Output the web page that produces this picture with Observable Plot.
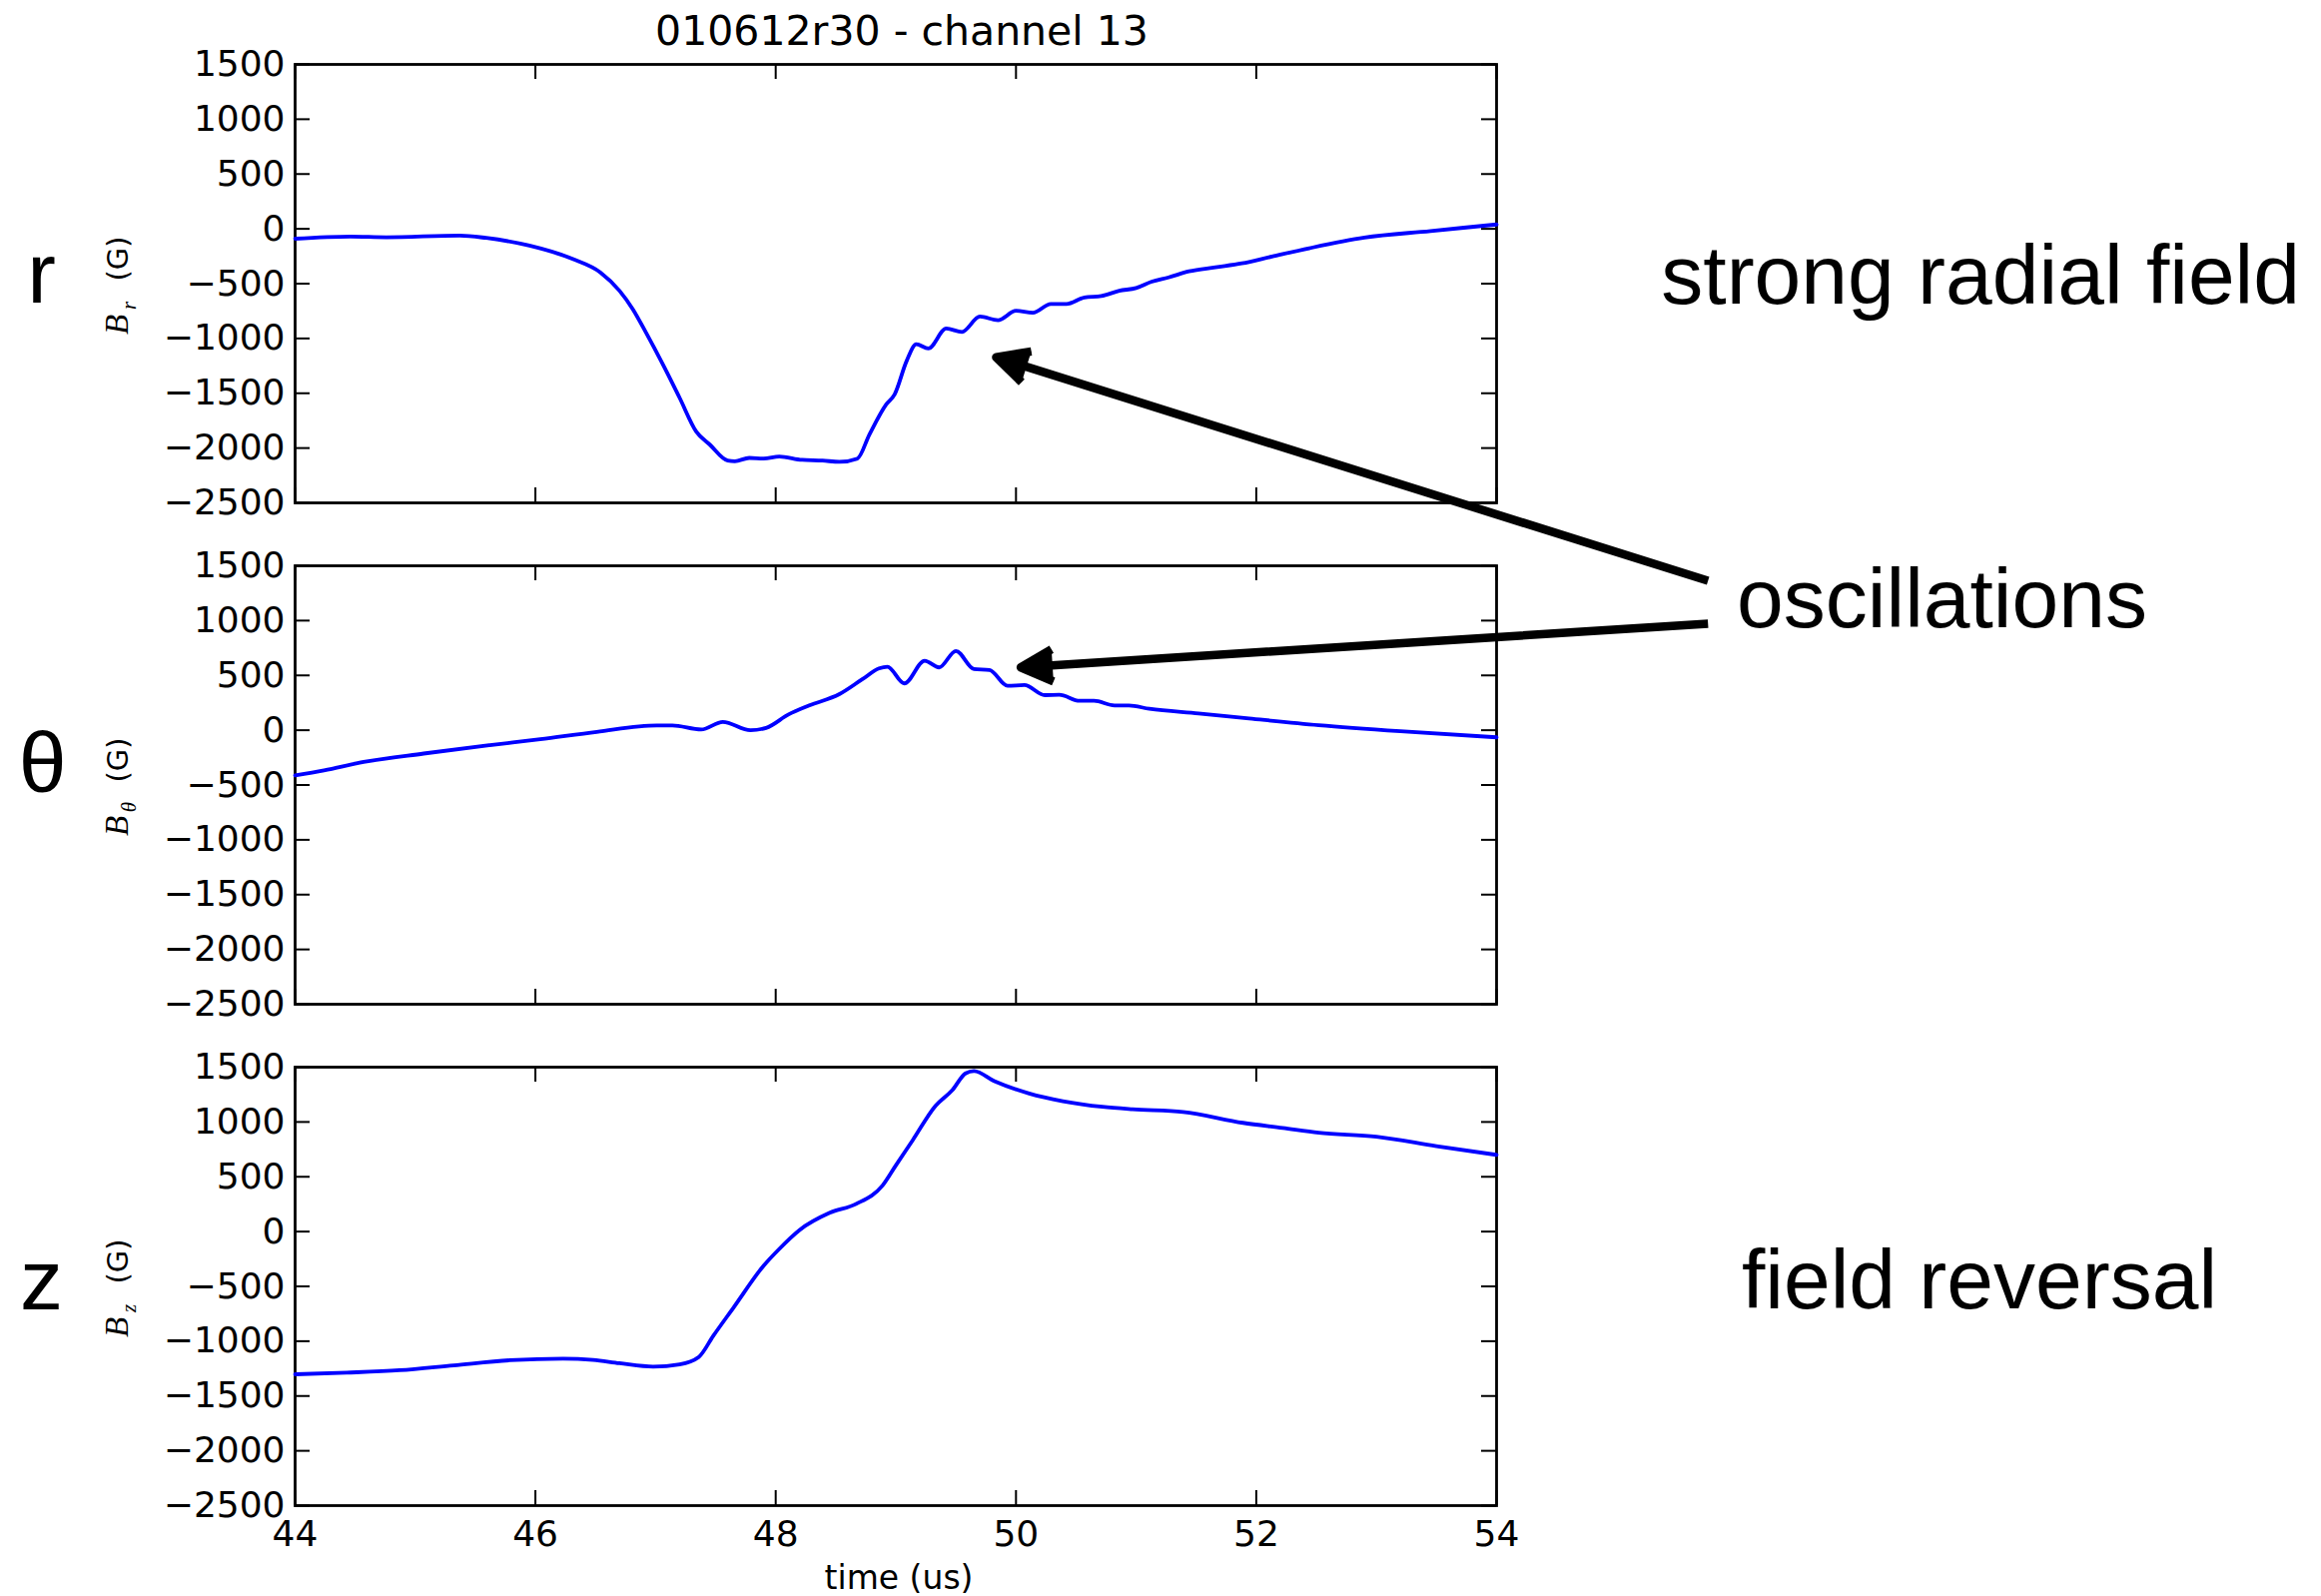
<!DOCTYPE html>
<html>
<head>
<meta charset="utf-8">
<script src="https://cdn.jsdelivr.net/npm/d3@7"></script>
<script src="https://cdn.jsdelivr.net/npm/@observablehq/plot@0.6"></script>
<style>
  html, body { margin: 0; padding: 0; background: white; }
  #chart svg { display: block; max-width: none; }
</style>
</head>
<body>
<div id="chart"></div>
<script>
// ---- data ----
const channels = ["r", "θ", "z"];
const xTicks = [44, 46, 48, 50, 52, 54];
const yTicks = [-2500, -2000, -1500, -1000, -500, 0, 500, 1000, 1500];
const title = "010612r30 - channel 13";
const xLabel = "time (us)";

const t_r = [44.0, 44.46, 44.76, 45.37, 45.59, 45.95, 46.31, 46.54, 46.70, 46.81, 46.92, 47.06, 47.20, 47.34, 47.45, 47.60, 47.66, 47.78, 47.90, 48.03, 48.22, 48.39, 48.53, 48.68, 48.78, 48.92, 48.99, 49.09, 49.17, 49.27, 49.42, 49.55, 49.70, 49.85, 50.00, 50.14, 50.29, 50.42, 50.57, 50.71, 50.86, 51.00, 51.13, 51.27, 51.44, 51.66, 51.88, 52.13, 52.44, 52.90, 53.45, 54.00];
const b_r = [-90, -70, -77, -61, -83, -153, -275, -397, -565, -732, -946, -1235, -1541, -1852, -1967, -2114, -2120, -2090, -2096, -2077, -2108, -2114, -2126, -2096, -1876, -1601, -1510, -1205, -1052, -1092, -909, -940, -800, -833, -748, -766, -686, -686, -626, -613, -565, -540, -482, -443, -388, -351, -315, -253, -177, -80, -20, 40];

const t_theta = [44.00, 44.24, 44.57, 45.07, 45.62, 46.04, 46.51, 47.01, 47.14, 47.38, 47.56, 47.79, 47.92, 48.11, 48.28, 48.53, 48.72, 48.86, 48.93, 49.07, 49.24, 49.36, 49.50, 49.65, 49.78, 49.93, 50.07, 50.24, 50.36, 50.53, 50.65, 50.82, 50.94, 51.11, 51.52, 51.94, 52.52, 53.20, 54.00];
const b_theta = [-412, -366, -290, -213, -137, -82, -15, 43, 43, 6, 76, 0, 21, 146, 226, 329, 464, 564, 579, 427, 634, 573, 723, 558, 549, 405, 412, 320, 323, 268, 268, 226, 226, 195, 153, 107, 46, -10, -65];

const t_z = [44.00, 44.43, 44.87, 45.32, 45.79, 46.23, 46.48, 46.70, 46.98, 47.20, 47.36, 47.48, 47.65, 47.90, 48.03, 48.20, 48.45, 48.67, 48.89, 49.00, 49.14, 49.33, 49.47, 49.58, 49.65, 49.82, 50.11, 50.39, 50.72, 50.97, 51.39, 51.89, 52.22, 52.52, 53.00, 53.50, 54.00];
const b_z = [-1302, -1287, -1265, -1220, -1174, -1159, -1171, -1201, -1232, -1211, -1144, -952, -692, -311, -158, 15, 171, 253, 421, 604, 833, 1147, 1290, 1443, 1464, 1372, 1260, 1190, 1138, 1116, 1092, 992, 946, 903, 865, 780, 700];

// annotations (in data coordinates of the panel they sit in)
const noteText = ["strong radial field", "oscillations", "field reversal"];
const noteCh = ["r", "θ", "z"];
const noteX = [55.37, 56.00, 56.04];
const noteY = [-678, 944, -705];

const arrowCh = ["r", "θ"];
const arrowX1 = [55.76, 55.76];
const arrowY1 = [-3211, 972];
const arrowX2 = [49.835, 50.04];
const arrowY2 = [-1172, 573];

const letterX = [41.77, 41.70, 41.71];
const letterY = [-669, -568, -714];

// ---- tables built from the arrays ----
const rows = [
  ...t_r.map((t, i) => ({ch: "r", t, v: b_r[i]})),
  ...t_theta.map((t, i) => ({ch: "θ", t, v: b_theta[i]})),
  ...t_z.map((t, i) => ({ch: "z", t, v: b_z[i]}))
];
const notes = noteText.map((s, i) => ({text: s, ch: noteCh[i], x: noteX[i], y: noteY[i]}));
const arrows = arrowCh.map((c, i) => ({ch: c, x1: arrowX1[i], y1: arrowY1[i], x2: arrowX2[i], y2: arrowY2[i]}));
const letters = channels.map((c, i) => ({ch: c, x: letterX[i], y: letterY[i]}));

// ---- layout ----
const W = 2324, H = 1598;
const mL = 295, mR = 826, mT = 64, mB = 91;
const pad = 0.1255;
const step = (H - mT - mB) / (3 - pad);
const bandH = step * (1 - pad);
const innerW = W - mL - mR;
const tickLen = 15;

const fmt = d => d < 0 ? "\u2212" + Math.abs(d) : String(d);

const chart = Plot.plot({
  width: W,
  height: H,
  marginLeft: mL,
  marginRight: mR,
  marginTop: mT,
  marginBottom: mB,
  style: "font-family: 'DejaVu Sans', sans-serif; color: black; background: white; overflow: visible;",
  x: {domain: [44, 54]},
  y: {domain: [-2500, 1500]},
  fy: {domain: channels, paddingInner: pad, paddingOuter: 0, axis: null},
  marks: [
    // inward ticks on all four sides
    Plot.tickX(xTicks, {x: d => d, insetTop: bandH - tickLen, stroke: "black", strokeWidth: 2}),
    Plot.tickX(xTicks, {x: d => d, insetBottom: bandH - tickLen, stroke: "black", strokeWidth: 2}),
    Plot.tickY(yTicks, {y: d => d, insetRight: innerW - tickLen, stroke: "black", strokeWidth: 2}),
    Plot.tickY(yTicks, {y: d => d, insetLeft: innerW - tickLen, stroke: "black", strokeWidth: 2}),
    Plot.frame({stroke: "black", strokeWidth: 2.8}),
    Plot.axisY({ticks: yTicks, tickSize: 0, tickPadding: 10, tickFormat: fmt, fontSize: 36, label: null}),
    Plot.axisX({ticks: xTicks, tickSize: 0, tickPadding: 15, tickFormat: d => String(d), fontSize: 36, label: null}),
    // data
    Plot.line(rows, {x: "t", y: "v", fy: "ch", stroke: "#0000ff", strokeWidth: 3.8, curve: "monotone-x"}),
    // y labels: B_sub (G)
    Plot.text(channels, {fy: d => d, text: () => "B", frameAnchor: "left", rotate: -90, dx: -168, dy: 41,
      lineAnchor: "bottom", textAnchor: "middle", fontFamily: "'Liberation Serif', serif", fontStyle: "italic", fontSize: 33}),
    Plot.text(channels, {fy: d => d, text: d => d, frameAnchor: "left", rotate: -90, dx: -160, dy: 22,
      lineAnchor: "bottom", textAnchor: "middle", fontFamily: "'Liberation Serif', serif", fontStyle: "italic", fontSize: 21}),
    Plot.text(channels, {fy: d => d, text: () => "(G)", frameAnchor: "left", rotate: -90, dx: -168, dy: -25,
      lineAnchor: "bottom", textAnchor: "middle", fontFamily: "'DejaVu Sans', sans-serif", fontSize: 29}),
    // big channel letters
    Plot.text(letters, {fy: "ch", x: "x", y: "y", text: "ch", textAnchor: "start", lineAnchor: "bottom",
      fontFamily: "'Liberation Sans', Arial, sans-serif", fontSize: 86}),
    // title and x label
    Plot.text([title], {fy: () => "r", text: d => d, frameAnchor: "top", dx: 6, dy: -20, lineAnchor: "bottom", fontSize: 41}),
    Plot.text([xLabel], {fy: () => "z", text: d => d, frameAnchor: "bottom", dx: 3, dy: 83, lineAnchor: "bottom", fontSize: 33}),
    // annotations
    Plot.arrow(arrows, {fy: "ch", x1: "x1", y1: "y1", x2: "x2", y2: "y2", stroke: "black", fill: "black",
      strokeWidth: 8.5, headLength: 6.3, headAngle: 54, strokeLinecap: "butt", strokeLinejoin: "round"}),
    Plot.text(notes, {fy: "ch", x: "x", y: "y", text: "text", textAnchor: "start", lineAnchor: "bottom",
      fontFamily: "'Liberation Sans', Arial, sans-serif", fontSize: 84})
  ]
});
document.getElementById("chart").appendChild(chart);
</script>
</body>
</html>
